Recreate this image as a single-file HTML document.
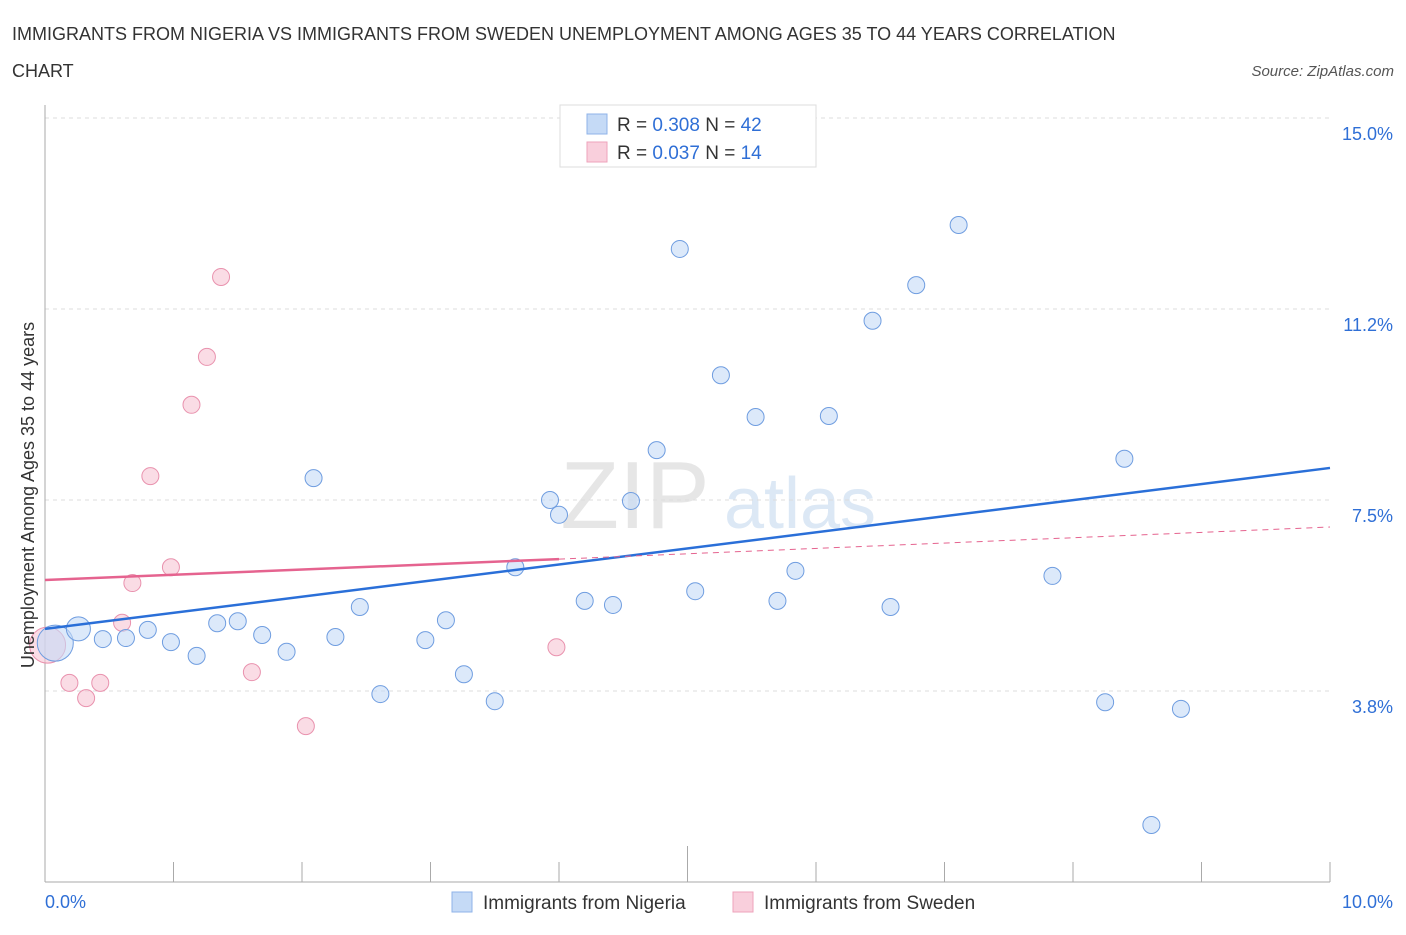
<!DOCTYPE html>
<html><head><meta charset="utf-8"><style>
body{margin:0;background:#fff;font-family:"Liberation Sans",sans-serif;}
svg text{font-family:"Liberation Sans",sans-serif;}
</style></head><body>
<svg width="1406" height="930" viewBox="0 0 1406 930">
<text x="12" y="40" font-size="18" fill="#333">IMMIGRANTS FROM NIGERIA VS IMMIGRANTS FROM SWEDEN UNEMPLOYMENT AMONG AGES 35 TO 44 YEARS CORRELATION</text>
<text x="12" y="77" font-size="18" fill="#333">CHART</text>
<text x="1394" y="76" font-size="15" fill="#555" font-style="italic" text-anchor="end">Source: ZipAtlas.com</text>
<g><text x="635" y="528" font-size="96" fill="#e6e6e6" font-family="Liberation Serif" text-anchor="middle">ZIP</text><text x="800" y="528" font-size="72" fill="#dce8f5" text-anchor="middle">atlas</text></g>
<g id="grid"></g>
<g id="axes"></g>
<g id="marks"></g>
<text transform="translate(34,495) rotate(-90)" font-size="18" fill="#333" text-anchor="middle">Unemployment Among Ages 35 to 44 years</text>
<g>
<rect x="560" y="105" width="256" height="62" fill="#fff" stroke="#ddd"/>
<rect x="587" y="114" width="20" height="20" fill="#c5daf6" stroke="#8fb3e8"/>
<text x="617" y="131" font-size="19" fill="#333">R = <tspan fill="#2f6fd6">0.308</tspan>   N = <tspan fill="#2f6fd6">42</tspan></text>
<rect x="587" y="142" width="20" height="20" fill="#f9cfdc" stroke="#eea3bb"/>
<text x="617" y="159" font-size="19" fill="#333">R = <tspan fill="#2f6fd6">0.037</tspan>   N = <tspan fill="#2f6fd6"> 14</tspan></text>
</g>
<g>
<rect x="452" y="892" width="20" height="20" fill="#c5daf6" stroke="#8fb3e8"/>
<text x="483" y="909" font-size="19" fill="#333">Immigrants from Nigeria</text>
<rect x="733" y="892" width="20" height="20" fill="#f9cfdc" stroke="#eea3bb"/>
<text x="764" y="909" font-size="19" fill="#333">Immigrants from Sweden</text>
</g>
</svg>
<script>
const yTicks=[3.75,7.5,11.25,15];
const yTickLabels=["3.8%","7.5%","11.2%","15.0%"];
const xTicks=[0,1,2,3,4,5,6,7,8,9,10];
const nigX=[0.08,0.26,0.45,0.63,0.80,0.98,1.18,1.34,1.50,1.69,1.88,2.09,2.26,2.45,2.61,2.96,3.12,3.26,3.50,3.66,3.93,4.00,4.20,4.42,4.56,4.76,4.94,5.06,5.26,5.53,5.70,5.84,6.10,6.44,6.58,6.78,7.11,7.84,8.25,8.40,8.61,8.84];
const nigY=[4.69,4.97,4.77,4.79,4.95,4.71,4.44,5.08,5.12,4.85,4.52,7.93,4.81,5.40,3.69,4.75,5.14,4.08,3.55,6.18,7.50,7.21,5.52,5.44,7.48,8.48,12.43,5.71,9.95,9.13,5.52,6.11,9.15,11.02,5.40,11.72,12.90,6.01,3.53,8.31,1.12,3.40];
const sweX=[0.02,0.19,0.32,0.43,0.60,0.68,0.82,0.98,1.14,1.26,1.37,1.61,2.03,3.98];
const sweY=[4.65,3.91,3.61,3.91,5.09,5.87,7.97,6.18,9.37,10.31,11.88,4.12,3.06,4.61];
const nigTrend=[4.97,8.13];
const sweTrend=[5.93,6.34,6.97];
const X=v=>45+v*128.5, Y=v=>882-v*50.93;
const NS="http://www.w3.org/2000/svg";
function mk(p,t,a){const e=document.createElementNS(NS,t);for(const k in a)e.setAttribute(k,a[k]);document.getElementById(p).appendChild(e);return e;}
yTicks.forEach((t,i)=>{
 const l=mk('grid','line',{x1:45,x2:1330,y1:Y(t),y2:Y(t),stroke:'#ddd','stroke-dasharray':'4 4'});
 
 
 const tx=mk('grid','text',{x:1393,y:Y(t)+22,'font-size':18,fill:'#2f6fd6','text-anchor':'end'});
 tx.textContent=yTickLabels[i];
 
 
});
const ax=mk('axes','line',{x1:45,x2:1330,y1:882,y2:882,stroke:'#aaa'});


const ay=mk('axes','line',{x1:45,x2:45,y1:105,y2:882,stroke:'#aaa'});


xTicks.forEach(t=>{
 const l=mk('axes','line',{x1:X(t),x2:X(t),y1:t==5?846:862,y2:882,stroke:'#aaa'});
 
 
});
const x0=mk('axes','text',{x:45,y:908,'font-size':18,fill:'#2f6fd6'});x0.textContent='0.0%';


const x1=mk('axes','text',{x:1393,y:908,'font-size':18,fill:'#2f6fd6','text-anchor':'end'});x1.textContent='10.0%';


sweX.forEach((v,i)=>{
 const c=mk('marks','circle',{cx:X(v),cy:Y(sweY[i]),r:i==0?18:8.5,fill:'#f7c4d4','fill-opacity':0.6,stroke:'#e992ae'});
 
 
});
nigX.forEach((v,i)=>{
 const c=mk('marks','circle',{cx:X(v),cy:Y(nigY[i]),r:i==0?18:(i==1?12:8.5),fill:'#c5daf6','fill-opacity':0.6,stroke:'#6f9de0'});
 
 
});
const tb=mk('marks','line',{x1:X(0),y1:Y(nigTrend[0]),x2:X(10),y2:Y(nigTrend[1]),stroke:'#2a6fd8','stroke-width':2.5});


const tp=mk('marks','line',{x1:X(0),y1:Y(sweTrend[0]),x2:X(4),y2:Y(sweTrend[1]),stroke:'#e5638f','stroke-width':2.5});


const td=mk('marks','line',{x1:X(4),y1:Y(sweTrend[1]),x2:X(10),y2:Y(sweTrend[2]),stroke:'#e5638f','stroke-width':1,'stroke-dasharray':'6 5'});


</script>
</body></html>
